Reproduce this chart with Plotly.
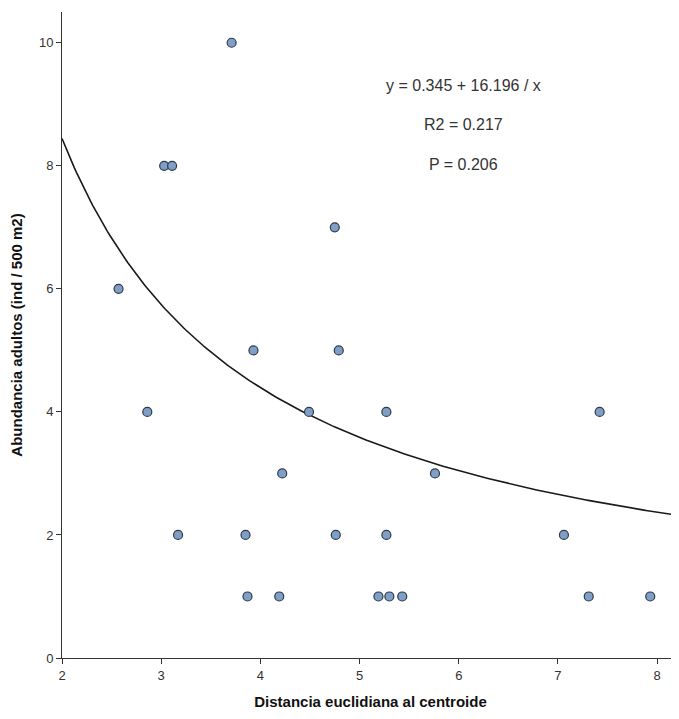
import numpy as np
import plotly.graph_objects as go

# Data
distancia = [3.71, 3.03, 3.11, 2.57, 2.86, 3.17, 3.85, 3.87, 3.93, 4.22, 4.19,
             4.49, 4.76, 4.75, 4.79, 5.27, 5.27, 5.19, 5.30, 5.43, 5.76, 7.06,
             7.42, 7.31, 7.93]
abundancia = [10, 8, 8, 6, 4, 2, 2, 1, 5, 3, 1,
              4, 2, 7, 5, 4, 2, 1, 1, 1, 3, 2,
              4, 1, 1]

# Fitted model coefficients (shown on chart)
b0 = 0.345
b1 = 16.196
r2_text = "R2 = 0.217"
p_text = "P = 0.206"
eq_text = "y = 0.345 + 16.196 / x"

x_ticks = [2, 3, 4, 5, 6, 7, 8]
y_ticks = [0, 2, 4, 6, 8, 10]
x_range = [2, 8.22]
y_range = [0, 10.5]

xf = np.linspace(x_range[0], x_range[1], 300)
yf = b0 + b1 / xf

fig = go.Figure()
fig.add_trace(go.Scatter(x=xf, y=yf, mode="lines",
                         line=dict(color="#1a1a1a", width=1.6),
                         hoverinfo="skip", showlegend=False))
fig.add_trace(go.Scatter(x=distancia, y=abundancia, mode="markers",
                         marker=dict(size=9, color="#7f9fc6",
                                     line=dict(color="#2e3a48", width=1.2)),
                         showlegend=False))

font_txt = dict(family="Arial, Liberation Sans, sans-serif", size=16, color="#333333")
for txt, yy in [(eq_text, 9.3), (r2_text, 8.67), (p_text, 8.02)]:
    fig.add_annotation(x=6.05, y=yy, text=txt, showarrow=False, font=font_txt,
                       xanchor="center", yanchor="middle")

axis_common = dict(showgrid=False, zeroline=False, showline=True, linecolor="#333333",
                   linewidth=1, ticks="outside", ticklen=5, tickcolor="#333333",
                   automargin=False,
                   tickfont=dict(family="Arial, Liberation Sans, sans-serif", size=13,
                                 color="#333333"))

fig.update_layout(
    width=671, height=711,
    margin=dict(l=54, r=0, t=4, b=61),
    plot_bgcolor="white", paper_bgcolor="white",
    xaxis=dict(range=x_range, tickvals=x_ticks, **axis_common,
               title=dict(text="<b>Distancia euclidiana al centroide</b>",
                          font=dict(family="Arial, Liberation Sans, sans-serif", size=15,
                                    color="#111111"), standoff=14)),
    yaxis=dict(range=y_range, tickvals=y_ticks, **axis_common,
               title=dict(text="<b>Abundancia adultos (ind / 500 m2)</b>",
                          font=dict(family="Arial, Liberation Sans, sans-serif", size=15,
                                    color="#111111"), standoff=14)),
)

fig.write_html("out.html")
